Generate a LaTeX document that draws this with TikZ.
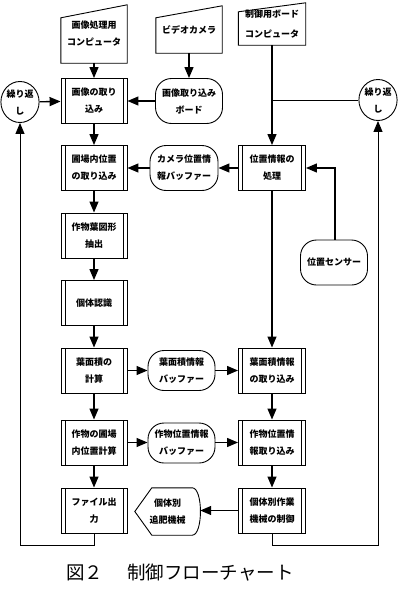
\documentclass[tikz,border=0pt]{standalone}
\usepackage{fontspec}
\newfontfamily\jp{Noto Sans CJK JP}
\usetikzlibrary{arrows.meta,shapes.geometric}
\begin{document}
\begin{tikzpicture}[x=1pt,y=-1pt,
  every node/.style={font=\jp\bfseries\fontsize{9}{17}\selectfont, align=center, inner sep=0pt},
  pproc/.style={draw, line width=0.9pt, minimum width=66pt, minimum height=45pt,
    path picture={
      \draw[line width=0.6pt] ([xshift=4pt]path picture bounding box.north west) -- ([xshift=4pt]path picture bounding box.south west);
      \draw[line width=0.6pt] ([xshift=-4pt]path picture bounding box.north east) -- ([xshift=-4pt]path picture bounding box.south east);}},
  term/.style={draw, line width=0.9pt, rounded corners=16pt, minimum width=67pt, minimum height=45pt},
  loopell/.style={draw, line width=0.9pt, ellipse, minimum width=35pt, minimum height=41pt},
  manual/.style={minimum width=66pt},
  shapeline/.style={line width=0.9pt},
  arr/.style={line width=1.3pt, -{Triangle[length=11pt,width=9pt]}},
  thinarr/.style={line width=0.9pt, -{Triangle[length=11pt,width=9pt]}},
  thinline/.style={line width=0.9pt}
]
\useasboundingbox (0,0) rectangle (408,589);

% documents (manual input shapes)
\node[manual, minimum height=58pt] (d1) at (94,34) {画像処理用\\コンピュータ};
\draw[shapeline] (d1.south west) -- (d1.south east) -- (d1.north east) -- ([yshift=-13pt]d1.north west) -- cycle;
\node[manual, minimum height=47pt] (d2) at (189,29.5) {\raisebox{-5pt}{ビデオカメラ}};
\draw[shapeline] (d2.south west) -- (d2.south east) -- (d2.north east) -- ([yshift=-12pt]d2.north west) -- cycle;
\node[manual, minimum width=67pt, minimum height=42pt] (d3) at (272,24) {\raisebox{-2pt}{\shortstack{制御用ボード\\[8pt]コンピュータ}}};
\draw[shapeline] (d3.south west) -- (d3.south east) -- (d3.north east) -- ([yshift=-9pt]d3.north west) -- cycle;

% loop ellipses
\node[loopell] (e1) at (20,102) {繰り返\\し};
\node[loopell] (e2) at (378,100) {繰り返\\し};

% left column
\node[pproc] (b1) at (94,101) {画像の取り\\込み};
\node[pproc] (b2) at (94,168) {圃場内位置\\の取り込み};
\node[pproc] (b3) at (94,235.5) {作物葉図形\\抽出};
\node[pproc] (b4) at (94,303) {個体認識};
\node[pproc] (b5) at (94,370.5) {葉面積の\\計算};
\node[pproc] (b6) at (94,442.5) {作物の圃場\\内位置計算};
\node[pproc] (b7) at (94,510.5) {ファイル出\\力};

% right column
\node[pproc, minimum width=67pt] (r1) at (272,168) {位置情報の\\処理};
\node[pproc, minimum width=67pt] (r2) at (272,370.5) {葉面積情報\\の取り込み};
\node[pproc, minimum width=67pt] (r3) at (272,442.5) {作物位置情\\報取り込み};
\node[pproc, minimum width=67pt] (r4) at (272,510.5) {個体別作業\\機械の制御};

% terminals
\node[term] (t1) at (189,101) {画像取り込み\\ボード};
\node[term, minimum width=68pt] (t2) at (184,168) {カメラ位置情\\報バッファー};
\node[term] (t3) at (334,262.5) {位置センサー};
\node[term, minimum height=40pt] (t4) at (181.5,370.5) {葉面積情報\\バッファー};
\node[term, minimum height=40pt] (t5) at (181.5,443) {作物位置情報\\バッファー};

% display shape
\node[minimum width=65pt, minimum height=47pt] (dp) at (167.5,511.5) {個体別\\追肥機械};
\draw[shapeline] (dp.west) -- ([xshift=17pt]dp.north west) -- ([xshift=-8pt]dp.north east)
  .. controls ([xshift=3pt]dp.north east) and ([xshift=3pt]dp.south east) .. ([xshift=-8pt]dp.south east)
  -- ([xshift=17pt]dp.south west) -- cycle;

% connectors
\draw[arr] (d1) -- (b1);
\draw[arr] (d2) -- (t1);
\draw[arr] (t1) -- (b1);
\draw[arr] (e1) -- (b1);
\draw[arr] (d3) -- (r1);
\coordinate (j) at (272,100);
\draw[thinline] (j) -- (e2);
\draw[arr] (b1) -- (b2);
\draw[arr] (b2) -- (b3);
\draw[arr] (b3) -- (b4);
\draw[arr] (b4) -- (b5);
\draw[arr] (b5) -- (b6);
\draw[arr] (b6) -- (b7);
\draw[arr] (r1) -- (t2);
\draw[arr] (t2) -- (b2);
\draw[arr] ([xshift=1pt]t3.north) |- (r1.east);
\draw[arr] (r1) -- (r2);
\draw[arr] (r2) -- (r3);
\draw[arr] (r3) -- (r4);
\draw[arr] (b5) -- (t4);
\draw[arr] (t4) -- (r2);
\draw[arr] (b6) -- (t5.west |- b6);
\draw[arr] (t5.east |- r3) -- (r3);
\draw[arr] (r4) -- (dp.east |- r4);
\coordinate (cl) at (20,545);
\coordinate (cr) at (378,545);
\draw[thinarr] (b7.south) |- (cl) -- (e1.south);
\draw[thinarr] (r4.south) |- (cr) -- (e2.south);

% caption
\node[font=\jp\fontsize{18.5}{18.5}\selectfont, anchor=west] (cap) at (66,573) {図２\hspace{1.3em}制御フローチャート};
\end{tikzpicture}
\end{document}
